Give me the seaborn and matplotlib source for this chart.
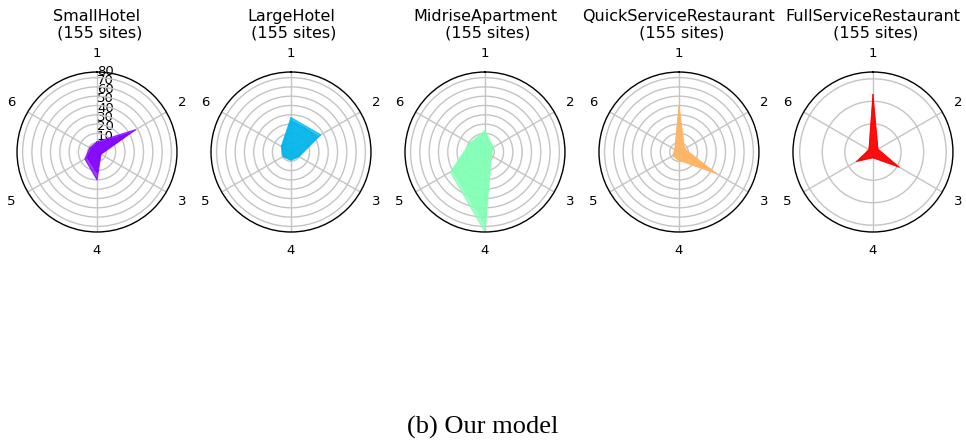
#!/usr/bin/env python3
"""
Radar profiles of the six cluster shares per building type (our model).
"""

import numpy as np
import matplotlib
matplotlib.use('Agg')
import matplotlib.pyplot as plt
import seaborn as sns

building_types = ['SmallHotel', 'LargeHotel', 'MidriseApartment',
                  'QuickServiceRestaurant', 'FullServiceRestaurant']
n_sites = [155, 155, 155, 155, 155]
spoke_labels = ['1', '2', '3', '4', '5', '6']

# low / high edge of the stacked site polygons
small_hotel_low = [9, 40, 4, 22, 12, 7]
small_hotel_high = [11, 48, 5, 30, 15, 9]
large_hotel_low = [34, 34, 9, 8, 9, 11]
large_hotel_high = [37, 37, 10, 9, 10, 12]
midrise_low = [21, 9, 7, 78, 40, 18]
midrise_high = [23, 10, 8, 86, 43, 19]
quick_service_low = [45, 6, 42, 8, 7, 5]
quick_service_high = [49, 7, 47, 9, 8, 5]
full_service_low = [42, 0, 20, 0, 10, -1]
full_service_high = [46, 0, 22, 0, 12, -1]

profiles = [
    [small_hotel_low, small_hotel_high],
    [large_hotel_low, large_hotel_high],
    [midrise_low, midrise_high],
    [quick_service_low, quick_service_high],
    [full_service_low, full_service_high],
]
r_lim = [(0, 86)] * 4 + [(-5, 66)]
r_ticks = [list(range(10, 90, 10))] * 4 + [[0, 20, 40, 60]]


def main():
    sns.set_style('white', {'text.color': 'black', 'xtick.color': 'black',
                            'ytick.color': 'black', 'axes.labelcolor': 'black'})
    plt.rcParams['font.family'] = ['DejaVu Sans']

    colors = plt.cm.rainbow(np.linspace(0, 1, len(building_types)))
    angles = np.linspace(0, 2 * np.pi, len(spoke_labels), endpoint=False)
    closed = np.concatenate([angles, angles[:1]])

    fig, axes = plt.subplots(1, 5, figsize=(9.66, 4.44), dpi=100,
                             subplot_kw=dict(polar=True))
    fig.subplots_adjust(left=0.0176, right=0.9865, bottom=0.4775,
                        top=0.8378, wspace=0.2125)

    for i, ax in enumerate(axes):
        ax.set_theta_offset(np.pi / 2)
        ax.set_theta_direction(-1)
        for vals in profiles[i]:
            v = np.concatenate([vals, vals[:1]])
            ax.fill(closed, v, color=colors[i], alpha=0.75, lw=0)
            ax.plot(closed, v, color=colors[i], lw=0.8, alpha=0.8)
        ax.set_ylim(*r_lim[i])
        ax.set_xticks(angles)
        ax.set_xticklabels(spoke_labels, fontsize=9.5)
        ax.tick_params(axis='x', pad=3)
        ax.set_yticks(r_ticks[i])
        if i == 0:
            ax.set_rlabel_position(0)
            ax.set_yticklabels([str(t) for t in r_ticks[i]], fontsize=9.5)
        else:
            ax.set_yticklabels([])
        ax.grid(True, color='#c4c4c4', lw=1)
        ax.spines['polar'].set_color('black')
        ax.spines['polar'].set_linewidth(1)
        ax.set_title(f'{building_types[i]}\n ({n_sites[i]} sites)',
                     fontsize=11.5, pad=7, linespacing=1.05)

    fig.text(0.5, 0.037, '(b) Our model', ha='center', va='center',
             fontsize=19, family=['Liberation Serif', 'DejaVu Serif'])

    plt.savefig('out.png', dpi=100)
    plt.close()


if __name__ == "__main__":
    main()
